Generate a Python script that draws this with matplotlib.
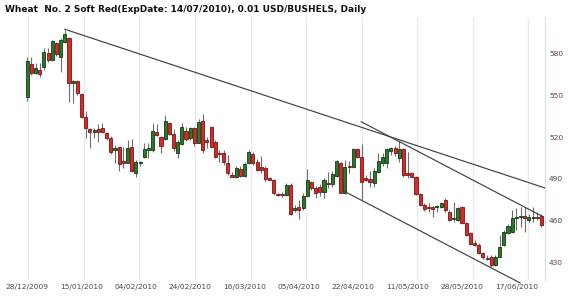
import numpy as np
import matplotlib
matplotlib.use("Agg")
import matplotlib.pyplot as plt

title = "Wheat  No. 2 Soft Red(ExpDate: 14/07/2010), 0.01 USD/BUSHELS, Daily"

# daily OHLC, one entry per trading day from 28/12/2009
opens = [549.0, 572.2, 566.0, 568.2, 570.0, 580.0, 575.3, 587.3, 577.7, 588.0,
         591.3, 558.6, 560.3, 550.7, 534.6, 525.6, 523.4, 525.6, 526.7, 522.7,
         519.1, 510.7, 513.1, 502.8, 501.6, 513.1, 494.4, 501.2, 505.5, 510.7,
         510.7, 523.9, 520.3, 518.4, 530.3, 522.0, 508.4, 514.8, 524.6, 519.1,
         526.3, 516.0, 531.8, 517.5, 527.5, 516.7, 508.4, 508.4, 501.6, 492.8,
         491.6, 496.9, 492.0, 501.2, 507.6, 502.3, 498.7, 498.0, 490.4, 489.2,
         479.0, 478.7, 478.4, 485.6, 467.5, 469.6, 469.0, 477.7, 488.0, 483.2,
         484.4, 480.8, 487.3, 486.3, 492.0, 501.6, 480.1, 499.2, 498.7, 511.2,
         505.9, 490.4, 489.7, 487.3, 495.2, 501.2, 501.6, 510.2, 512.0, 504.8,
         511.2, 494.4, 494.0, 491.1, 479.1, 471.2, 469.3, 469.2, 469.6, 469.6,
         474.8, 466.4, 461.0, 460.5, 469.6, 458.1, 450.9, 443.7, 442.5, 436.6,
         433.2, 433.7, 428.5, 434.2, 442.5, 451.4, 452.0, 461.7, 462.3, 462.5,
         460.5, 461.7, 462.8, 463.4]
highs = [577.7, 577.7, 573.0, 573.4, 583.7, 583.7, 589.7, 588.5, 591.0, 597.0,
         592.0, 561.0, 561.0, 551.4, 538.7, 526.7, 526.3, 529.4, 530.0, 524.0,
         521.0, 514.3, 513.1, 513.0, 518.0, 518.4, 503.5, 503.0, 516.0, 516.0,
         530.0, 529.4, 520.8, 535.9, 531.0, 526.0, 518.0, 530.0, 527.0, 527.5,
         527.0, 533.0, 536.6, 520.3, 528.0, 518.0, 510.7, 510.5, 507.1, 495.0,
         499.0, 499.0, 502.3, 511.0, 509.0, 504.3, 506.3, 499.0, 491.6, 490.0,
         480.0, 480.5, 487.0, 487.0, 471.0, 474.8, 480.0, 496.9, 488.5, 485.0,
         486.0, 490.4, 495.0, 496.0, 503.5, 502.3, 503.5, 503.0, 512.0, 512.0,
         515.0, 492.8, 496.0, 498.0, 508.4, 508.4, 512.0, 513.1, 513.5, 517.0,
         512.0, 509.5, 495.0, 492.0, 480.0, 472.5, 472.5, 470.5, 471.5, 473.5,
         476.0, 467.5, 473.6, 469.6, 470.5, 459.0, 451.5, 446.0, 444.0, 437.5,
         435.0, 435.3, 435.5, 449.7, 453.5, 457.5, 467.6, 468.9, 469.6, 470.0,
         464.5, 469.6, 466.0, 464.5]
lows = [545.9, 564.6, 565.0, 563.3, 568.2, 574.0, 574.6, 578.2, 567.0, 587.3,
        545.0, 544.3, 550.0, 534.0, 519.1, 512.0, 519.0, 516.7, 522.7, 518.0,
        508.0, 501.2, 496.0, 497.6, 501.2, 495.2, 491.6, 499.0, 504.8, 504.8,
        509.5, 520.8, 508.4, 517.9, 521.5, 510.0, 504.8, 514.0, 517.0, 518.0,
        513.6, 515.5, 508.8, 512.4, 512.0, 504.8, 502.3, 500.0, 492.8, 491.0,
        490.5, 491.0, 491.5, 500.5, 499.6, 495.9, 494.5, 488.5, 489.0, 478.5,
        477.6, 477.0, 477.6, 464.0, 466.5, 461.0, 468.0, 477.2, 482.0, 476.0,
        478.0, 476.0, 483.5, 484.5, 491.5, 479.6, 479.0, 494.5, 498.0, 504.8,
        474.8, 488.5, 484.5, 484.5, 494.5, 499.0, 497.5, 507.0, 506.5, 502.3,
        491.5, 490.4, 490.5, 478.5, 470.5, 467.2, 466.4, 462.8, 466.5, 468.8,
        466.4, 459.5, 459.3, 459.8, 457.5, 449.0, 442.5, 441.5, 435.8, 432.5,
        432.0, 427.0, 427.5, 433.7, 442.0, 450.5, 451.4, 453.3, 455.7, 452.0,
        459.0, 459.3, 460.5, 455.7]
closes = [574.6, 565.8, 569.4, 565.0, 581.3, 575.0, 589.0, 579.4, 589.7, 593.8,
          558.6, 560.3, 551.4, 534.6, 526.7, 523.9, 525.0, 523.4, 523.4, 519.1,
          509.5, 512.4, 500.5, 501.2, 512.4, 495.7, 502.3, 501.9, 511.2, 512.0,
          524.4, 521.5, 513.6, 531.8, 522.0, 512.4, 516.7, 527.5, 518.4, 526.3,
          516.0, 531.1, 510.7, 516.7, 513.1, 505.9, 507.6, 502.3, 494.4, 491.6,
          498.0, 492.0, 500.5, 509.0, 501.6, 496.4, 496.4, 489.7, 489.2, 479.6,
          478.2, 478.2, 485.6, 464.6, 469.0, 467.6, 477.7, 489.2, 483.2, 479.6,
          480.8, 489.2, 486.3, 493.3, 502.8, 480.1, 498.7, 498.3, 511.2, 505.5,
          488.0, 489.2, 488.0, 496.0, 503.0, 505.5, 511.2, 512.0, 508.4, 511.2,
          492.8, 492.8, 491.1, 479.1, 471.2, 468.1, 468.9, 468.6, 470.0, 472.5,
          467.7, 460.5, 462.1, 468.9, 458.1, 449.7, 443.2, 442.8, 436.6, 433.7,
          432.6, 428.2, 434.0, 441.3, 452.0, 456.2, 461.7, 462.9, 462.9, 462.2,
          462.9, 462.5, 462.0, 456.9]

date_labels = ["28/12/2009", "15/01/2010", "04/02/2010", "24/02/2010", "16/03/2010",
               "05/04/2010", "22/04/2010", "11/05/2010", "28/05/2010", "17/06/2010"]
label_bars = [0, 13, 26, 39, 52, 65, 78, 91, 104, 117]
grid_bars = [0.2, 13.5, 26.8, 40.1, 53.5, 66.8, 80.1, 93.3, 106.6, 119.9]
price_ticks = [430, 460, 490, 520, 550, 580]

# trend lines (bar index, price)
trend_a_x, trend_a_y = [9.0, 123.9], [597.4, 483.4]
trend_b_x, trend_b_y = [79.9, 123.4], [531.0, 462.8]
trend_c_x, trend_c_y = [76.0, 117.9], [480.8, 415.3]

o = np.array(opens); h = np.array(highs); l = np.array(lows); c = np.array(closes)
x = np.arange(len(o))

fig = plt.figure(figsize=(5.70, 2.99), dpi=100)
ax = fig.add_axes([5/570, 19/299, 540/570, 263/299])
ax.set_xlim(-5.3, 123.85)
ax.set_ylim(417.4, 606.2)

for g in grid_bars:
    ax.axvline(g, color="#e4eaef", lw=0.9, zorder=0)

up = c >= o
ax.vlines(x, l, h, color="#6e6e6e", lw=0.8, zorder=2)
body_lo = np.minimum(o, c)
body_h = np.maximum(np.abs(c - o), 0.9)
ax.bar(x[up], body_h[up], bottom=body_lo[up], width=0.74,
       color="#2b772b", edgecolor="#143a14", lw=0.6, zorder=3)
ax.bar(x[~up], body_h[~up], bottom=body_lo[~up], width=0.74,
       color="#d42a28", edgecolor="#7a1512", lw=0.6, zorder=3)

ax.plot(trend_a_x, trend_a_y, color="#404040", lw=0.85, zorder=4)
ax.plot(trend_b_x, trend_b_y, color="#404040", lw=0.85, zorder=4)
ax.plot(trend_c_x, trend_c_y, color="#404040", lw=0.85, zorder=4, clip_on=False)

for s in ["top", "left", "bottom"]:
    ax.spines[s].set_visible(False)
ax.spines["right"].set_color("#d8e2ea")
ax.spines["right"].set_linewidth(0.9)

ax.yaxis.tick_right()
ax.set_yticks(price_ticks)
ax.set_yticklabels([str(p) for p in price_ticks])
ax.set_xticks(label_bars)
ax.set_xticklabels(date_labels)
ax.tick_params(axis="both", length=0, labelsize=5.4, labelcolor="#4a4a4a")
ax.tick_params(axis="y", pad=3)
ax.tick_params(axis="x", pad=3)

fig.text(5/570, 1 - 9/299, title, fontsize=6.5, fontweight="bold",
         ha="left", va="center", color="#111111")

fig.savefig("out.png", dpi=100, facecolor="white")
